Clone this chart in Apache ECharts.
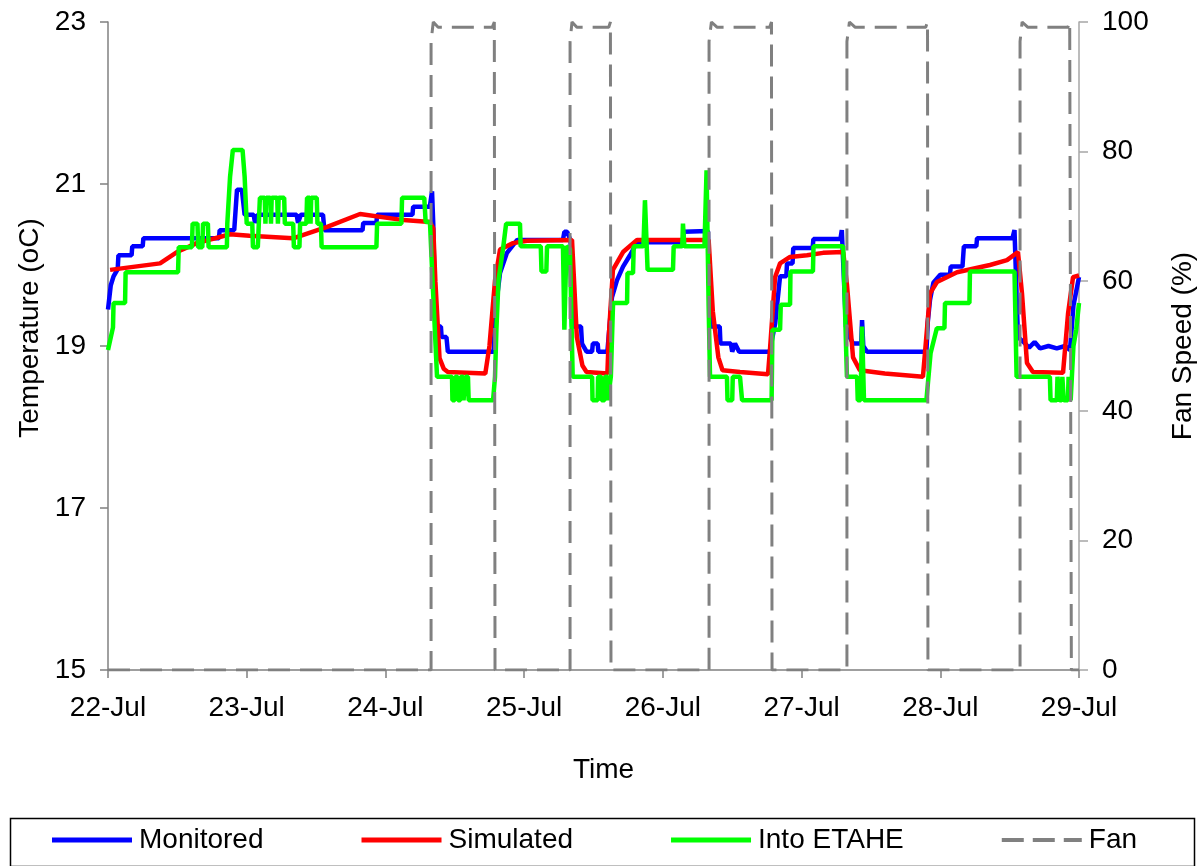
<!DOCTYPE html>
<html>
<head>
<meta charset="utf-8">
<script src="https://cdn.jsdelivr.net/npm/echarts@6/dist/echarts.min.js"></script>
<style>
html,body{margin:0;padding:0;background:#fff;overflow:hidden;}
#chart{width:1197px;height:866px;}
</style>
</head>
<body>
<div id="chart"></div>
<script>
// Tick labels of the time axis (days since 22-Jul)
const dayLabels = ['22-Jul','23-Jul','24-Jul','25-Jul','26-Jul','27-Jul','28-Jul','29-Jul'];
const seriesNames = ['Monitored','Simulated','Into ETAHE','Fan'];

// [day, temperature oC]
const monitored = [
 [0,19.45],[0.02,19.75],[0.04,19.86],[0.07,19.95],[0.075,20.12],[0.17,20.12],[0.175,20.23],[0.25,20.23],[0.255,20.33],
 [0.80,20.33],[0.805,20.43],[0.91,20.43],[0.93,20.93],[0.965,20.93],[0.985,20.62],[1.05,20.62],[1.06,20.52],[1.08,20.62],
 [1.36,20.62],[1.37,20.52],[1.39,20.62],[1.55,20.62],[1.56,20.43],[1.835,20.43],[1.84,20.52],[1.935,20.52],[1.94,20.62],
 [2.195,20.62],[2.2,20.72],[2.32,20.72],[2.336,20.91],[2.345,20.5],[2.36,19.24],[2.40,19.24],[2.405,19.11],[2.44,19.11],
 [2.45,18.93],[2.78,18.93],[2.79,19.3],[2.80,19.53],[2.826,19.9],[2.876,20.15],[2.95,20.31],[3.28,20.31],[3.29,20.41],
 [3.31,20.41],[3.335,20.3],[3.345,19.24],[3.41,19.24],[3.417,19.03],[3.45,18.93],[3.49,18.93],[3.495,19.03],[3.53,19.03],
 [3.535,18.93],[3.60,18.93],[3.633,19.6],[3.669,19.81],[3.713,19.98],[3.763,20.12],[3.814,20.28],[4.145,20.28],[4.15,20.41],
 [4.325,20.42],[4.34,19.24],[4.41,19.24],[4.415,19.03],[4.49,19.03],[4.5,18.93],[4.52,19.03],[4.55,18.93],[4.77,18.93],
 [4.81,19.28],[4.845,19.86],[4.89,19.86],[4.895,20.02],[4.935,20.02],[4.94,20.21],[5.08,20.21],[5.085,20.32],[5.28,20.32],
 [5.29,20.43],[5.30,20.43],[5.32,19.24],[5.35,19.1],[5.371,19.03],[5.43,19.03],[5.436,19.32],[5.445,19.0],[5.472,18.93],
 [5.90,18.93],[5.91,19.3],[5.926,19.57],[5.95,19.78],[6.0,19.88],[6.07,19.88],[6.075,19.98],[6.16,19.98],[6.17,20.23],
 [6.26,20.23],[6.265,20.33],[6.52,20.33],[6.535,20.43],[6.545,20.43],[6.56,19.11],[6.60,19.05],[6.64,18.98],
 [6.68,19.05],[6.72,18.97],[6.78,19.0],[6.84,18.97],[6.90,19.0],[6.935,18.95],[6.96,19.5],[7.0,19.85]
];

const simulated = [
 [0.015,19.94],[0.375,20.02],[0.497,20.16],[0.64,20.27],[0.88,20.38],[1.02,20.36],[1.334,20.33],[1.58,20.47],[1.817,20.63],
 [2.105,20.56],[2.321,20.53],[2.345,20.45],[2.36,19.8],[2.39,18.85],[2.42,18.72],[2.45,18.68],[2.72,18.66],[2.75,19.0],
 [2.79,19.81],[2.826,20.19],[2.92,20.27],[3.02,20.3],[3.345,20.31],[3.38,19.11],[3.42,18.76],[3.45,18.68],[3.6,18.66],
 [3.61,19.11],[3.64,19.94],[3.713,20.16],[3.814,20.31],[4.33,20.31],[4.36,19.43],[4.4,18.86],[4.43,18.7],[4.556,18.68],
 [4.758,18.65],[4.772,18.95],[4.809,19.85],[4.845,20.02],[4.917,20.1],[5.039,20.12],[5.155,20.15],[5.30,20.16],[5.327,19.76],
 [5.371,18.86],[5.42,18.7],[5.6,18.66],[5.875,18.62],[5.926,19.65],[5.976,19.79],[6.121,19.91],[6.358,20.0],[6.481,20.06],
 [6.56,20.16],[6.589,19.65],[6.625,18.79],[6.668,18.68],[6.885,18.67],[6.921,19.4],[6.957,19.85],[7.0,19.87]
];

const intoEtahe = [
 [0,18.95],[0.036,19.23],[0.04,19.53],[0.123,19.53],[0.127,19.91],[0.505,19.91],[0.51,20.22],[0.605,20.22],[0.61,20.51],
 [0.645,20.51],[0.65,20.22],[0.68,20.22],[0.685,20.51],[0.72,20.51],[0.725,20.22],[0.857,20.22],[0.86,20.51],[0.88,21.09],
 [0.9,21.42],[0.97,21.42],[0.985,21.09],[1.0,20.51],[1.04,20.51],[1.045,20.22],[1.08,20.22],[1.095,20.83],[1.13,20.83],
 [1.135,20.51],[1.14,20.83],[1.17,20.83],[1.175,20.51],[1.18,20.83],[1.22,20.83],[1.225,20.51],[1.23,20.83],[1.27,20.83],
 [1.275,20.51],[1.335,20.51],[1.34,20.22],[1.38,20.22],[1.385,20.51],[1.43,20.51],[1.435,20.83],[1.455,20.83],[1.46,20.51],
 [1.465,20.83],[1.505,20.83],[1.51,20.51],[1.535,20.51],[1.54,20.22],[1.935,20.22],[1.94,20.51],[2.115,20.51],[2.12,20.83],
 [2.28,20.83],[2.29,20.53],[2.321,20.53],[2.34,19.8],[2.372,18.62],[2.48,18.62],[2.483,18.33],[2.50,18.33],[2.503,18.62],
 [2.52,18.62],[2.523,18.33],[2.54,18.33],[2.543,18.62],[2.56,18.62],[2.563,18.33],[2.575,18.33],[2.578,18.62],[2.595,18.62],
 [2.6,18.33],[2.776,18.33],[2.79,18.62],[2.80,19.2],[2.815,19.81],[2.85,20.23],[2.87,20.51],[2.97,20.51],[2.975,20.23],
 [3.12,20.23],[3.125,19.92],[3.16,19.92],[3.165,20.23],[3.28,20.23],[3.29,19.2],[3.305,20.23],[3.33,20.2],[3.35,18.62],
 [3.49,18.62],[3.493,18.33],[3.53,18.33],[3.533,18.62],[3.555,18.62],[3.558,18.33],[3.58,18.33],[3.583,18.62],[3.60,18.62],
 [3.603,18.33],[3.615,18.33],[3.625,18.62],[3.641,19.53],[3.742,19.53],[3.745,19.9],[3.785,19.9],[3.79,20.23],[3.86,20.23],
 [3.871,20.8],[3.89,19.94],[4.073,19.94],[4.078,20.23],[4.14,20.23],[4.145,20.51],[4.155,20.23],[4.30,20.23],[4.315,21.17],
 [4.33,19.5],[4.34,18.62],[4.462,18.62],[4.466,18.33],[4.5,18.33],[4.504,18.62],[4.556,18.62],[4.571,18.33],[4.784,18.33],
 [4.79,19.2],[4.845,19.2],[4.85,19.51],[4.917,19.51],[4.92,19.92],[5.082,19.92],[5.086,20.23],[5.30,20.23],[5.327,18.62],
 [5.40,18.62],[5.405,18.33],[5.425,18.33],[5.436,19.24],[5.45,18.33],[5.90,18.33],[5.93,18.91],[5.975,19.22],[6.03,19.22],
 [6.034,19.53],[6.21,19.53],[6.214,19.92],[6.535,19.92],[6.55,18.62],[6.79,18.62],[6.795,18.33],[6.84,18.33],[6.845,18.62],
 [6.855,18.62],[6.86,18.33],[6.875,18.33],[6.88,18.62],[6.89,18.33],[6.92,18.33],[6.925,18.62],[6.94,18.33],[6.96,19.0],
 [6.98,19.2],[7.0,19.53]
];

// [day, fan speed %]
const fan = [
 [0,0],[2.329,0],[2.329,97],[2.345,100],[2.38,99.2],[2.77,99.2],[2.785,100],[2.79,0],
 [3.331,0],[3.331,97],[3.345,100],[3.38,99.2],[3.61,99.2],[3.622,100],[3.626,0],
 [4.333,0],[4.333,97],[4.35,100],[4.39,99.2],[4.77,99.2],[4.783,100],[4.787,0],
 [5.327,0],[5.327,97],[5.345,100],[5.385,99.2],[5.895,99.2],[5.908,100],[5.911,0],
 [6.575,0],[6.575,97],[6.59,100],[6.63,99.2],[6.92,99.2],[6.933,100],[6.945,0],[7,0]
];

const FONT = "'Liberation Sans', Arial, sans-serif";
const chart = echarts.init(document.getElementById('chart'), null, {renderer:'canvas'});

function lineSeries(name, data, color, extra) {
  return Object.assign({
    name: name, type: 'line', data: data, symbol: 'none', showSymbol: false,
    lineStyle: {color: color, width: 4.5}, itemStyle: {color: color},
    emphasis: {disabled: true}, animation: false
  }, extra || {});
}

const dashIcon = 'path://M0,0h22v4h-22z M31,0h22v4h-22z M62,0h18v4h-18z';

chart.setOption({
  backgroundColor: '#fff',
  animation: false,
  textStyle: {fontFamily: FONT},
  grid: {left: 108, right: 118, top: 22, bottom: 196, containLabel: false, outerBoundsMode: 'none'},
  xAxis: {
    type: 'value', min: 0, max: 7, interval: 1,
    name: 'Time', nameLocation: 'middle', nameGap: 86,
    nameTextStyle: {color: '#000', fontSize: 28, fontFamily: FONT, padding: [0, 0, 0, 20]},
    axisLine: {lineStyle: {color: '#808080', width: 1.5}},
    axisTick: {show: true, length: 8, lineStyle: {color: '#808080', width: 1.5}},
    axisLabel: {color: '#000', fontSize: 28, fontFamily: FONT, margin: 24,
      formatter: v => dayLabels[Math.round(v)] || ''},
    splitLine: {show: false}
  },
  yAxis: [{
    type: 'value', min: 15, max: 23, interval: 2, position: 'left',
    name: 'Temperature (oC)', nameLocation: 'middle', nameRotate: 90, nameGap: 60,
    nameTextStyle: {color: '#000', fontSize: 28, fontFamily: FONT, padding: [0, 0, 0, 36]},
    axisLine: {show: true, lineStyle: {color: '#808080', width: 1.5}},
    axisTick: {show: true, length: 8, lineStyle: {color: '#808080', width: 1.5}},
    axisLabel: {color: '#000', fontSize: 28, fontFamily: FONT, margin: 22},
    splitLine: {show: false}
  }, {
    type: 'value', min: 0, max: 100, interval: 20, position: 'right',
    name: 'Fan Speed (%)', nameLocation: 'middle', nameRotate: 90, nameGap: 90,
    nameTextStyle: {color: '#000', fontSize: 28, fontFamily: FONT},
    axisLine: {show: true, lineStyle: {color: '#a6a6a6', width: 1.5}},
    axisTick: {show: true, length: 9, lineStyle: {color: '#a6a6a6', width: 1.5}},
    axisLabel: {color: '#000', fontSize: 28, fontFamily: FONT, margin: 23},
    splitLine: {show: false}
  }],
  legend: {
    data: [
      {name: seriesNames[0], icon: 'rect'},
      {name: seriesNames[1], icon: 'rect'},
      {name: seriesNames[2], icon: 'rect'},
      {name: seriesNames[3], icon: dashIcon}
    ],
    left: 52, top: 826, padding: 0,
    itemWidth: 80, itemHeight: 5, itemGap: 98,
    textStyle: {color: '#000', fontSize: 28, fontFamily: FONT, padding: [0, 0, 0, 2]},
    selectedMode: false
  },
  graphic: [{
    type: 'rect', left: 8, top: 816, silent: true,
    shape: {width: 1184, height: 48},
    style: {fill: 'none', stroke: '#000', lineWidth: 1.5}
  }],
  series: [
    lineSeries(seriesNames[0], monitored, '#0000ff'),
    lineSeries(seriesNames[1], simulated, '#ff0000'),
    lineSeries(seriesNames[2], intoEtahe, '#00ff00'),
    lineSeries(seriesNames[3], fan, '#808080', {
      yAxisIndex: 1,
      lineStyle: {color: '#808080', width: 3, type: [22, 10]}
    })
  ]
});
</script>
</body>
</html>
